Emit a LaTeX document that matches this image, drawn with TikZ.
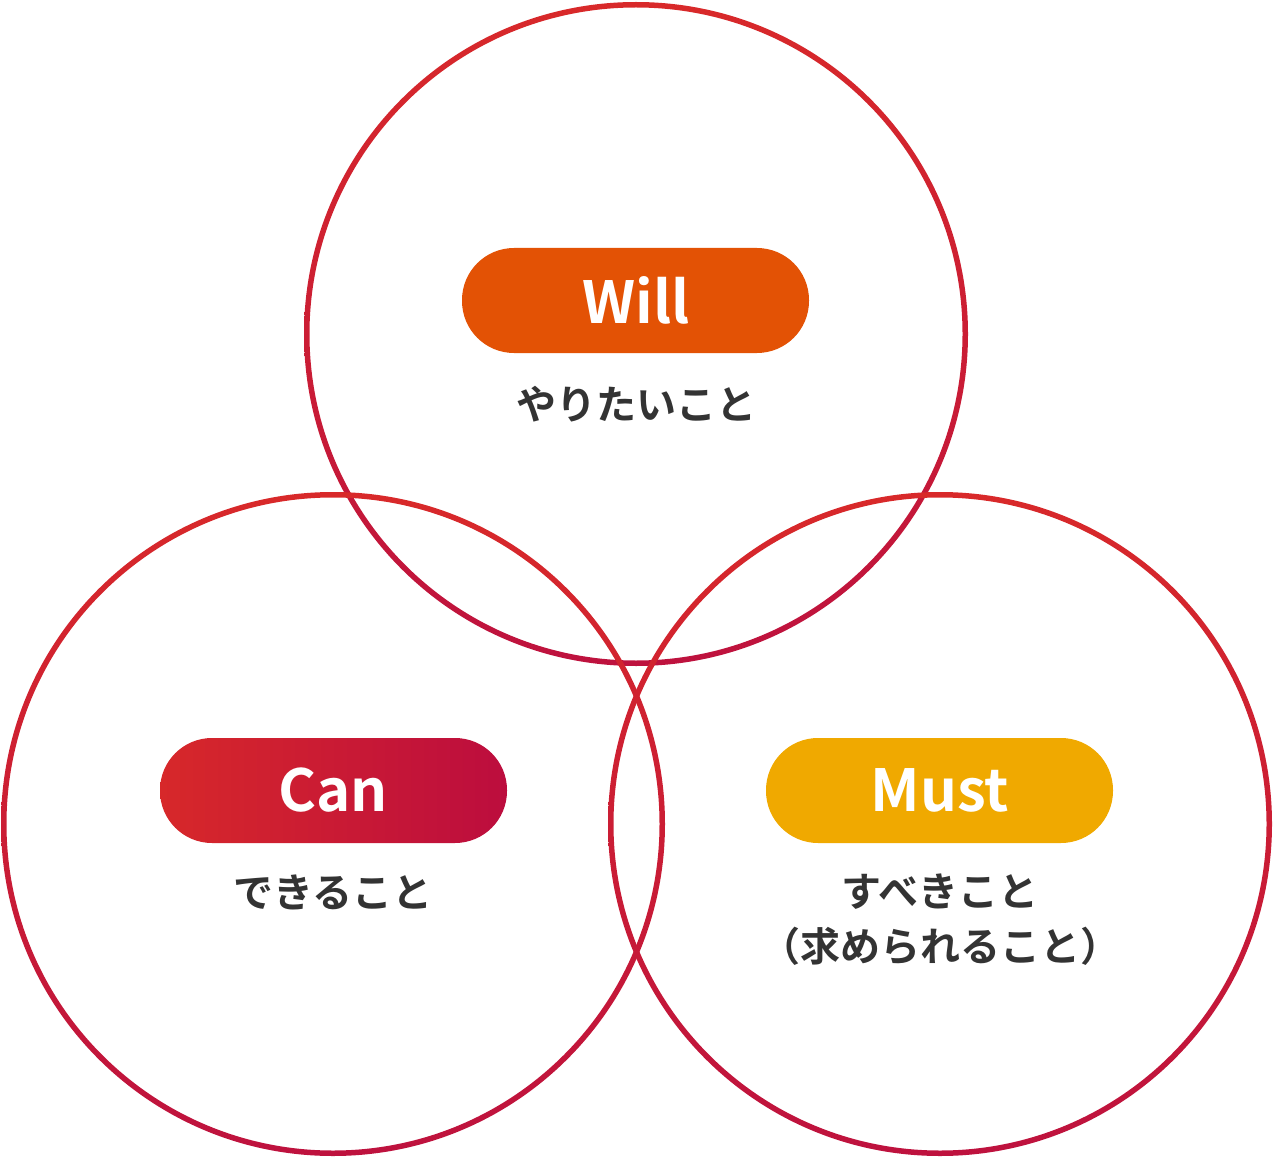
\documentclass[tikz,border=0pt]{standalone}
\usepackage{fontspec}
\setmainfont{Noto Sans CJK JP}[BoldFont={Noto Sans CJK JP Bold}]
\definecolor{ringtop}{HTML}{D8292A}
\definecolor{ringbot}{HTML}{BE123E}
\definecolor{willc}{HTML}{E35205}
\definecolor{canl}{HTML}{D7282A}
\definecolor{canr}{HTML}{BC0D3E}
\definecolor{mustc}{HTML}{F0A900}
\definecolor{txt}{HTML}{333333}
\begin{document}
\begin{tikzpicture}[x=1pt,y=-1pt,
  lab/.style={text=white, font=\bfseries\fontsize{58}{58}\selectfont},
  sub/.style={text=txt, font=\bfseries\fontsize{40}{55}\selectfont, align=center}]
\useasboundingbox (0,0) rectangle (1274,1158);
\newcommand{\ring}[3]{\shade[top color=ringtop,bottom color=ringbot,even odd rule] (#1,#2) circle[radius=#3] (#1,#2) circle[radius=#3-5.5];}
\ring{636}{334}{332}
\ring{333}{824}{332}
\ring{940}{824}{332}
\fill[rounded corners=52pt,willc] (462,248) rectangle (809,353);
\node[lab] (will) at (636,300) {Will};
\shade[rounded corners=52pt,left color=canl,right color=canr] (160,738) rectangle (507,843);
\node[lab] (can) at (333,790) {Can};
\fill[rounded corners=52pt,mustc] (766,738) rectangle (1113,843);
\node[lab] (must) at (940,790) {Must};
\node[sub] (willt) at (636,404) {やりたいこと};
\node[sub] (cant) at (333,892) {できること};
\node[sub] (mustt) at (940,920) {すべきこと\\（求められること）};
\end{tikzpicture}
\end{document}
